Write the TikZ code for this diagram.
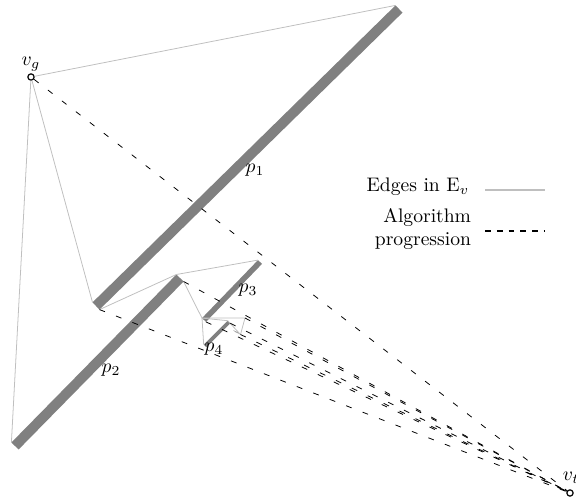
\documentclass[tikz,border=0pt]{standalone}
\usepackage{amsmath}
\usetikzlibrary{calc}
\definecolor{obsgray}{gray}{0.5}
\definecolor{edgegray}{gray}{0.75}
\tikzstyle{obstacle} = [fill=obsgray]
\tikzstyle{visedge} = [draw=edgegray, line width=0.4pt]
\tikzstyle{progress} = [draw=black, loosely dashed, line width=0.4pt]

\begin{document}
\begin{tikzpicture}[
    x=0.51pt, y=-0.51pt,
    vert/.style={circle, draw=black, fill=white, line width=0.6pt, inner sep=0pt, minimum size=3.2pt},
    lbl/.style={inner sep=1pt}]
    \useasboundingbox (0,0) rectangle (576,501);
    \coordinate (p1b1) at (92.5,302.4);
    \coordinate (p1b2) at (99.5,309.6);
    \coordinate (p1t2) at (402.5,12.6);
    \coordinate (p1t1) at (395.5,5.4);
    \coordinate (p2b1) at (11.4,442.5);
    \coordinate (p2b2) at (18.6,449.5);
    \coordinate (p2t2) at (183.6,281.5);
    \coordinate (p2t1) at (176.4,274.5);
    \coordinate (p3b1) at (202,318.1);
    \coordinate (p3b2) at (206,321.9);
    \coordinate (p3t2) at (262,263.9);
    \coordinate (p3t1) at (258,260.1);
    \coordinate (p4b1) at (203.7,344.7);
    \coordinate (p4b2) at (206.3,347.3);
    \coordinate (p4t2) at (230.3,323.3);
    \coordinate (p4t1) at (227.7,320.7);
    \coordinate (p5b1) at (233,330);
    \coordinate (p5b2) at (235,332);
    \coordinate (p5t2) at (240.5,334.5);
    \coordinate (p5t1) at (238.5,332.5);
    \coordinate (p6) at (245,318);
    \fill[obstacle] (p1b1) -- (p1b2) -- (p1t2) -- (p1t1) -- cycle;
    \fill[obstacle] (p2b1) -- (p2b2) -- (p2t2) -- (p2t1) -- cycle;
    \fill[obstacle] (p3b1) -- (p3b2) -- (p3t2) -- (p3t1) -- cycle;
    \fill[obstacle] (p4b1) -- (p4b2) -- (p4t2) -- (p4t1) -- cycle;
    \fill[obsgray!70] (p5b1) -- (p5b2) -- (p5t2) -- (p5t1) -- cycle;
    \node[vert] (vg) at (31,77) {};
    \node[vert] (vt) at (570,493) {};
    \node[lbl, above] at (vg.north) {$v_g$};
    \node[lbl] at (571,478) {$v_t$};
    \node at (255,170) {$p_1$};
    \node at (111,370) {$p_2$};
    \node at (248,290) {$p_3$};
    \node at (214,349) {$p_4$};
    \draw[visedge] (vg) -- (p1t1);
    \draw[visedge] (vg) -- (p1b1);
    \draw[visedge] (vg) -- (p2b1);
    \draw[visedge] (p1b2) -- (p2t1);
    \draw[visedge] (p2t1) -- (p3t1);
    \draw[visedge] (p2t2) -- (p3b1);
    \draw[visedge] (p3b1) -- (p4b1);
    \draw[visedge] (p3b1) -- (p4t1);
    \draw[visedge] (p3b1) -- (p6);
    \draw[visedge] (p4t1) -- (p5t2);
    \draw[visedge] (p6) -- (p5t2);
    \draw[progress] (vg) -- (vt);
    \draw[progress] (p1b2) -- (vt);
    \draw[progress] (p2t2) -- (vt);
    \draw[progress] (p3b2) -- (vt);
    \draw[progress] (p4t2) -- (vt);
    \draw[progress] (p5t2) -- (vt);
    \draw[progress] (p6) -- (vt);
    \node[anchor=east, align=right] (le) at (476,187) {Edges in $\mathrm{E}_v$};
    \node[anchor=east, align=right] (lp) at (478,229) {Algorithm\\progression};
    \coordinate (le1) at (485,190);
    \coordinate (le2) at (545,190);
    \coordinate (lp1) at (485,231);
    \coordinate (lp2) at (545,231);
    \draw[edgegray, line width=1.2pt] (le1) -- (le2);
    \draw[black, dashed, line width=1.2pt] (lp1) -- (lp2);
\end{tikzpicture}
\end{document}
